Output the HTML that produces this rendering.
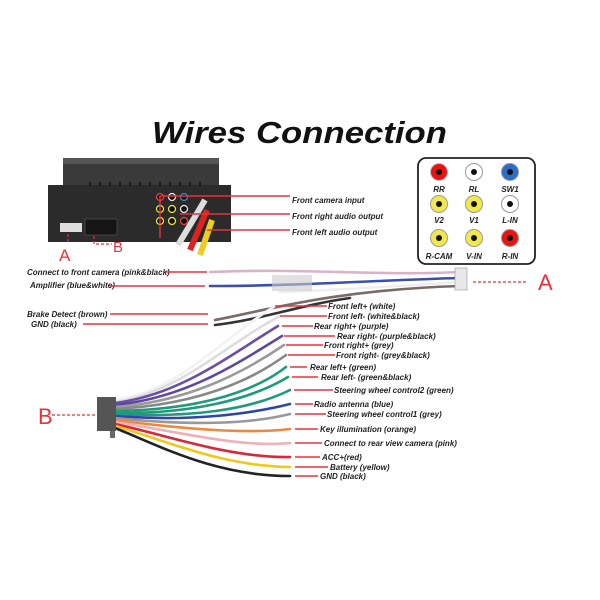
<!DOCTYPE html>
<html><head><meta charset="utf-8"><style>
html,body{margin:0;padding:0;background:#fff;}
svg{display:block}
.l{font-family:"Liberation Sans",sans-serif;font-style:italic;font-weight:bold;font-size:8px;fill:#222}
.r{stroke:#e8333b;stroke-width:1.4;fill:none}
.rd{stroke:#e8333b;stroke-width:1.2;fill:none;stroke-dasharray:3 2}
.w{fill:none;stroke-width:2.6;stroke-linecap:round}
</style></head><body>
<svg width="600" height="600" viewBox="0 0 600 600">
<text x="152" y="143" font-family="Liberation Sans,sans-serif" font-style="italic" font-weight="bold" font-size="31" textLength="295" lengthAdjust="spacingAndGlyphs" fill="#111">Wires Connection</text>

<!-- stereo -->
<rect x="63" y="158" width="156" height="28" fill="#3a3a3a"/>
<rect x="63" y="158" width="156" height="6" fill="#555"/>
<rect x="48" y="185" width="183" height="57" fill="#2b2b2b"/>
<g stroke="#111" stroke-width="1.5">
<line x1="90" y1="182" x2="90" y2="186"/><line x1="100" y1="182" x2="100" y2="186"/><line x1="110" y1="182" x2="110" y2="186"/><line x1="120" y1="182" x2="120" y2="186"/><line x1="130" y1="182" x2="130" y2="186"/><line x1="140" y1="182" x2="140" y2="186"/><line x1="150" y1="182" x2="150" y2="186"/><line x1="160" y1="182" x2="160" y2="186"/><line x1="170" y1="182" x2="170" y2="186"/><line x1="180" y1="182" x2="180" y2="186"/><line x1="190" y1="182" x2="190" y2="186"/><line x1="200" y1="182" x2="200" y2="186"/>
</g>
<rect x="60" y="223" width="22" height="9" fill="#ddd"/>
<rect x="85" y="219" width="32" height="16" fill="#151515" stroke="#666" stroke-width="0.5"/>
<g stroke="#fff" stroke-width="1.2">
<circle cx="160" cy="197" r="3.5" fill="#111" stroke="#e44"/><circle cx="172" cy="197" r="3.5" fill="#111" stroke="#eee"/><circle cx="184" cy="197" r="3.5" fill="#111" stroke="#48c"/>
<circle cx="160" cy="209" r="3.5" fill="#111" stroke="#ee3"/><circle cx="172" cy="209" r="3.5" fill="#111" stroke="#ee3"/><circle cx="184" cy="209" r="3.5" fill="#111" stroke="#eee"/>
<circle cx="160" cy="221" r="3.5" fill="#111" stroke="#ee3"/><circle cx="172" cy="221" r="3.5" fill="#111" stroke="#ee3"/><circle cx="184" cy="221" r="3.5" fill="#111" stroke="#e44"/>
</g>
<path d="M205 200 L178 245" stroke="#ddd" stroke-width="6" fill="none"/>
<path d="M207 210 L190 250" stroke="#d22" stroke-width="6" fill="none"/>
<path d="M212 220 L200 255" stroke="#ec2" stroke-width="6" fill="none"/>
<path class="r" d="M195 196 L160 196 L160 238 M195 196 L290 196"/>
<path class="r" d="M180 214 L290 214"/>
<path class="r" d="M207 230 L290 230"/>
<text class="l" x="292" y="203">Front camera input</text>
<text class="l" x="292" y="219">Front right audio output</text>
<text class="l" x="292" y="235">Front left audio output</text>
<path class="rd" d="M68 234 L68 244"/>
<path class="rd" d="M94 236 L94 244 L112 244"/>
<text x="59" y="261" font-family="Liberation Sans,sans-serif" font-size="17" fill="#e8333b">A</text>
<text x="113" y="252" font-family="Liberation Sans,sans-serif" font-size="15" fill="#e8333b">B</text>

<!-- RCA panel -->
<rect x="418" y="158" width="117" height="106" rx="8" fill="#fff" stroke="#222" stroke-width="1.8"/>
<g>
<circle cx="439" cy="172" r="8.5" fill="#e11" stroke="#bbb"/><circle cx="439" cy="172" r="3" fill="#111"/>
<circle cx="474" cy="172" r="8.5" fill="#fff" stroke="#999"/><circle cx="474" cy="172" r="3" fill="#111"/>
<circle cx="510" cy="172" r="8.5" fill="#2a6ec8" stroke="#999"/><circle cx="510" cy="172" r="3" fill="#111"/>
<circle cx="439" cy="204" r="8.5" fill="#f3e84a" stroke="#999"/><circle cx="439" cy="204" r="3" fill="#111"/>
<circle cx="474" cy="204" r="8.5" fill="#f3e84a" stroke="#999"/><circle cx="474" cy="204" r="3" fill="#111"/>
<circle cx="510" cy="204" r="8.5" fill="#fff" stroke="#999"/><circle cx="510" cy="204" r="3" fill="#111"/>
<circle cx="439" cy="238" r="8.5" fill="#f3e84a" stroke="#999"/><circle cx="439" cy="238" r="3" fill="#111"/>
<circle cx="474" cy="238" r="8.5" fill="#f3e84a" stroke="#999"/><circle cx="474" cy="238" r="3" fill="#111"/>
<circle cx="510" cy="238" r="8.5" fill="#e11" stroke="#999"/><circle cx="510" cy="238" r="3" fill="#111"/>
</g>
<g class="l" text-anchor="middle">
<text x="439" y="192">RR</text><text x="474" y="192">RL</text><text x="510" y="192">SW1</text>
<text x="439" y="223">V2</text><text x="474" y="223">V1</text><text x="510" y="223">L-IN</text>
<text x="439" y="259">R-CAM</text><text x="474" y="259">V-IN</text><text x="510" y="259">R-IN</text>
</g>

<!-- harness A -->
<path class="w" stroke="#d9b3c8" d="M210 272 C300 268 380 276 460 272"/>
<path class="w" stroke="#3a4fb0" d="M210 286 C300 286 380 280 460 278"/>
<path class="w" stroke="#eee" d="M280 292 C340 290 400 286 460 282"/>
<path class="w" stroke="#7a6a68" d="M215 320 C260 312 330 290 460 286"/>
<path class="w" stroke="#333" d="M215 325 C260 320 300 305 350 298"/>
<rect x="272" y="275" width="40" height="16" fill="#ccc" opacity="0.6"/>
<rect x="455" y="268" width="12" height="22" fill="#e8e8e8" stroke="#999" stroke-width="0.6"/>
<path class="rd" d="M473 282 L528 282"/>
<text x="538" y="290" font-family="Liberation Sans,sans-serif" font-size="22" fill="#e8333b">A</text>
<text class="l" x="27" y="275">Connect to front camera (pink&amp;black)</text>
<path class="r" d="M166 272 L207 272"/>
<text class="l" x="30" y="288">Amplifier (blue&amp;white)</text>
<path class="r" d="M110 286 L205 286"/>
<text class="l" x="27" y="317">Brake Detect (brown)</text>
<path class="r" d="M110 314 L208 314"/>
<text class="l" x="31" y="327">GND (black)</text>
<path class="r" d="M83 324 L208 324"/>

<!-- harness B wires -->
<g>
<path class="w" stroke="#f2f2f2" d="M115 400 C180 390 220 340 275 306"/>
<path class="w" stroke="#ddd" d="M115 402 C180 392 225 345 280 316"/>
<path class="w" stroke="#6a4ea8" d="M115 403 C180 395 230 355 278 326"/>
<path class="w" stroke="#5d48a0" d="M115 405 C185 398 235 365 282 336"/>
<path class="w" stroke="#9a9a9a" d="M115 407 C185 402 240 375 284 345"/>
<path class="w" stroke="#888" d="M115 409 C190 405 245 385 286 355"/>
<path class="w" stroke="#1f9a7a" d="M115 411 C190 410 250 395 286 367"/>
<path class="w" stroke="#1f9a7a" d="M115 413 C190 414 250 400 288 377"/>
<path class="w" stroke="#1f9a7a" d="M115 414 C190 418 250 410 290 390"/>
<path class="w" stroke="#2f46a8" d="M115 416 C190 422 250 414 290 404"/>
<path class="w" stroke="#999" d="M115 418 C190 426 250 424 290 414"/>
<path class="w" stroke="#f0883a" d="M115 420 C190 430 250 434 290 429"/>
<path class="w" stroke="#f0b0b8" d="M115 422 C180 432 240 448 290 443"/>
<path class="w" stroke="#d8283a" d="M115 424 C170 436 230 458 290 457"/>
<path class="w" stroke="#f0c818" d="M115 426 C165 440 220 466 290 467"/>
<path class="w" stroke="#222" d="M115 428 C160 446 215 476 290 476"/>
</g>
<rect x="97" y="397" width="19" height="34" fill="#555"/>
<rect x="110" y="431" width="5" height="7" fill="#666"/>
<path class="rd" d="M52 415 L96 415"/>
<text x="38" y="424" font-family="Liberation Sans,sans-serif" font-size="22" fill="#e8333b">B</text>

<g class="r">
<path d="M275 306 L327 306"/><path d="M280 316 L327 316"/><path d="M282 326 L313 326"/><path d="M284 336 L335 336"/>
<path d="M286 345 L323 345"/><path d="M288 355 L335 355"/><path d="M290 367 L307 367"/><path d="M292 377 L318 377"/>
<path d="M294 390 L333 390"/><path d="M295 404 L313 404"/><path d="M295 414 L326 414"/><path d="M295 429 L318 429"/>
<path d="M295 443 L322 443"/><path d="M295 457 L320 457"/><path d="M295 467 L328 467"/><path d="M295 476 L318 476"/>
</g>
<g class="l">
<text x="328" y="309">Front left+ (white)</text>
<text x="328" y="319">Front left- (white&amp;black)</text>
<text x="314" y="329">Rear right+ (purple)</text>
<text x="337" y="339">Rear right- (purple&amp;black)</text>
<text x="324" y="348">Front right+ (grey)</text>
<text x="336" y="358">Front right- (grey&amp;black)</text>
<text x="310" y="370">Rear left+ (green)</text>
<text x="321" y="380">Rear left- (green&amp;black)</text>
<text x="334" y="393">Steering wheel control2 (green)</text>
<text x="314" y="407">Radio antenna (blue)</text>
<text x="327" y="417">Steering wheel control1 (grey)</text>
<text x="320" y="432">Key illumination (orange)</text>
<text x="324" y="446">Connect to rear view camera (pink)</text>
<text x="322" y="460">ACC+(red)</text>
<text x="330" y="470">Battery (yellow)</text>
<text x="320" y="479">GND (black)</text>
</g>
</svg>
</body></html>
